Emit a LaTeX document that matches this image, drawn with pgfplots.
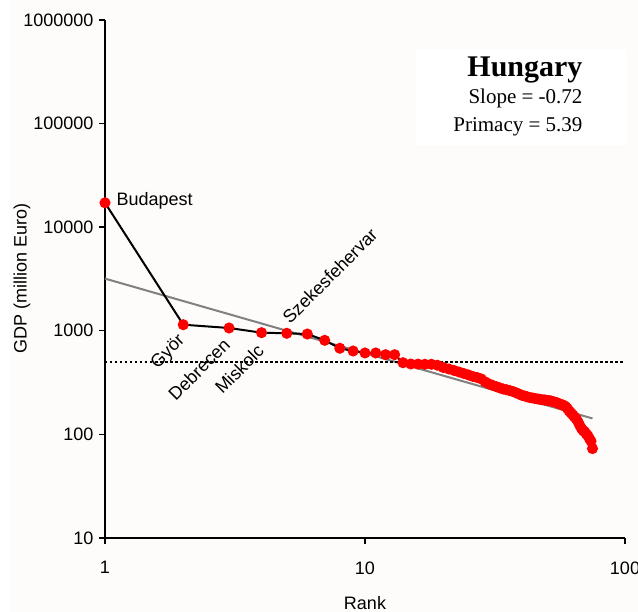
\documentclass[border=0pt]{standalone}
\usepackage{fontspec}
\setmainfont{Liberation Sans}
\newfontfamily\timesfont{Liberation Serif}
\usepackage{pgfplots}
\pgfplotsset{compat=1.18}
\usepackage{pgfplotstable}

\definecolor{pagebg}{RGB}{253,252,250}
\definecolor{fitgray}{RGB}{128,128,128}
\definecolor{cityred}{RGB}{255,0,0}

% Rank-size data for Hungarian cities: rank, GDP (million Euro)
\pgfplotstableread{
rank gdp
1 17200
2 1145
3 1064
4 959
5 946
6 931
7 809
8 678
9 638
10 611
11 611
12 588
13 588
14 492
15 478
16 477
17 475
18 475
19 465
20 442
21 428
22 414
23 400
24 387
25 375
26 362
27 354
28 343
29 321
30 307
31 297
32 289
33 281
34 274
35 270
36 265
37 260
38 253
39 246
40 239
41 235
42 231
43 227
44 225
45 222
46 220
47 218
48 216
49 215
50 213
51 212
52 210
53 207
54 204
55 201
56 197
57 194
58 191
59 186
60 178
61 168
62 161
63 154
64 147
65 141
66 132
67 122
68 114
69 109
70 106
71 101
72 97
73 91
74 86
75 73
}\citydata

\newcommand{\lbl}{\fontsize{18}{21}\selectfont}

\begin{document}
\begin{tikzpicture}
\path[use as bounding box] (0pt,0pt) rectangle (638pt,612pt);
\fill[pagebg] (10pt,0pt) rectangle (638pt,612pt);
\fill[white] (416pt,467pt) rectangle (627pt,563pt);

\begin{axis}[
  at={(105pt,74pt)}, anchor=south west,
  scale only axis, width=520pt, height=518pt,
  xmode=log, ymode=log,
  xmin=1, xmax=100, ymin=10, ymax=1000000,
  axis x line=bottom, axis y line=left,
  axis line style={-, line width=2pt, black},
  xtick={1,10,100}, xticklabels={1,10,100},
  ytick={10,100,1000,10000,100000,1000000},
  yticklabels={10,100,1000,10000,100000,1000000},
  minor tick style={draw=none},
  tick align=outside, major tick length=6pt,
  major tick style={line width=1.4pt, black},
  ticklabel style={font=\lbl},
  /pgf/number format/assume math mode=true,
  xticklabel style={yshift=-14pt},
  yticklabel style={xshift=-2pt},
  clip=false,
]
% fitted rank-size line and 500 threshold
\addplot[fitgray, line width=2pt, no marks] coordinates {(1,3190) (75,142.5)};
\addplot[black, line width=1.8pt, dash pattern=on 2.5pt off 2.5pt, no marks] coordinates {(1,500) (99.5,500)};
% cities
\addplot[black, line width=2pt, mark=*, mark size=4.5pt,
  mark options={draw=cityred, fill=cityred, solid}] table[x=rank, y=gdp] {\citydata};

\node[anchor=west, font=\lbl] at (axis cs:1,17200) [xshift=8pt, yshift=2pt] {Budapest};
\node[anchor=east, rotate=45, font=\lbl] at (axis cs:2,1145) [xshift=-7pt, yshift=-9pt] {Györ};
\node[anchor=east, rotate=45, font=\lbl] at (axis cs:3,1064) [xshift=-8pt, yshift=-8pt] {Debrecen};
\node[anchor=east, rotate=45, font=\lbl] at (axis cs:4,959) [xshift=-8pt, yshift=-10pt] {Miskolc};
\node[anchor=west, rotate=45, font=\lbl] at (axis cs:5,946) [xshift=5pt, yshift=10pt] {Szekesfehervar};
\end{axis}

\node[anchor=base east, font=\timesfont\fontsize{30}{34}\selectfont\bfseries] at (586pt,535.3pt) {Hungary};
\node[anchor=base east, font=\timesfont\fontsize{21}{24}\selectfont] at (586pt,508.7pt) {Slope = -0.72};
\node[anchor=base east, font=\timesfont\fontsize{21}{24}\selectfont] at (586pt,480.3pt) {Primacy = 5.39};

\node[rotate=90, font=\lbl] at (22pt,334pt) {GDP (million Euro)};
\node[font=\lbl] at (365pt,9pt) {Rank};
\end{tikzpicture}
\end{document}
